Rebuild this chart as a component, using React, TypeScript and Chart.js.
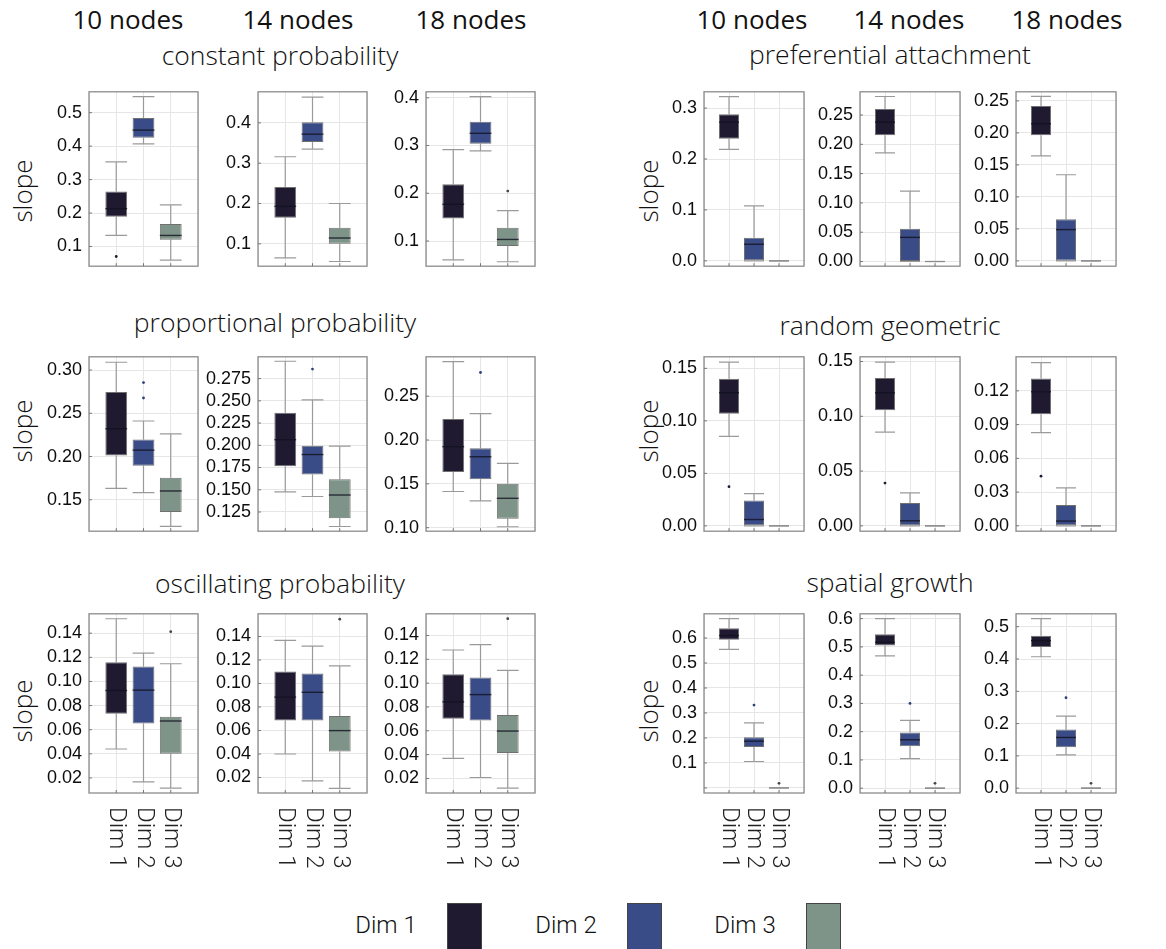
import React, { useEffect, useRef } from 'react';
import { Chart, registerables } from 'chart.js';

Chart.register(...registerables);

// ---------- categories / colours ----------
const categories = ['Dim 1', 'Dim 2', 'Dim 3'];
const dimColors = ['#1f1a30', '#3a4c87', '#7e9489'];
const outlierColors = ['#1f1a30', '#2f3f78', '#3d4a44'];
const columnTitles = ['10 nodes', '14 nodes', '18 nodes'];
const leftTitles = ['constant probability', 'proportional probability', 'oscillating probability'];
const rightTitles = ['preferential attachment', 'random geometric', 'spatial growth'];

// ---------- data: per dimension [lower whisker, Q1, median, Q3, upper whisker] ----------
const constant10 = [[0.133, 0.189, 0.213, 0.264, 0.353], [0.4065, 0.425, 0.448, 0.484, 0.548], [0.059, 0.12, 0.133, 0.167, 0.2245]];
const constant10Out = [[0.07], [], []];
const constant10Range = [0.041, 0.5625];
const constant10Ticks = ['0.1', '0.2', '0.3', '0.4', '0.5'];

const constant14 = [[0.065, 0.165, 0.193, 0.241, 0.316], [0.335, 0.3525, 0.372, 0.4016, 0.4638], [0.0563, 0.1, 0.1145, 0.14, 0.2]];
const constant14Out = [[], [], []];
const constant14Range = [0.0446, 0.477];
const constant14Ticks = ['0.1', '0.2', '0.3', '0.4'];

const constant18 = [[0.0605, 0.147, 0.177, 0.219, 0.2915], [0.289, 0.3036, 0.3256, 0.35, 0.4026], [0.0566, 0.0895, 0.1033, 0.1276, 0.1638]];
const constant18Out = [[], [], [0.2046]];
const constant18Range = [0.0473, 0.4125];
const constant18Ticks = ['0.1', '0.2', '0.3', '0.4'];

const pref10 = [[0.2188, 0.24, 0.2723, 0.2877, 0.3227], [0, 0, 0.0326, 0.0456, 0.108], [0, 0, 0, 0, 0]];
const pref10Out = [[], [], []];
const pref10Range = [-0.0105, 0.332];
const pref10Ticks = ['0.0', '0.1', '0.2', '0.3'];

const pref14 = [[0.1853, 0.2153, 0.2378, 0.2603, 0.2816], [0, 0, 0.0412, 0.0561, 0.1202], [0, 0, 0, 0, 0]];
const pref14Out = [[], [], []];
const pref14Range = [-0.008, 0.2896];
const pref14Ticks = ['0.00', '0.05', '0.10', '0.15', '0.20', '0.25'];

const pref18 = [[0.164, 0.1962, 0.2143, 0.2422, 0.2569], [0, 0, 0.0489, 0.0651, 0.1346], [0, 0, 0, 0, 0]];
const pref18Out = [[], [], []];
const pref18Range = [-0.0083, 0.2642];
const pref18Ticks = ['0.00', '0.05', '0.10', '0.15', '0.20', '0.25'];

const prop10 = [[0.1631, 0.2011, 0.2321, 0.2746, 0.309], [0.1584, 0.1893, 0.2074, 0.2197, 0.2411], [0.1192, 0.1359, 0.1602, 0.1755, 0.2262]];
const prop10Out = [[], [0.2677, 0.2855], []];
const prop10Range = [0.1137, 0.3153];
const prop10Ticks = ['0.15', '0.20', '0.25', '0.30'];

const prop14 = [[0.1477, 0.1765, 0.2063, 0.2366, 0.2945], [0.1424, 0.1672, 0.1896, 0.1995, 0.2511], [0.1087, 0.1179, 0.1441, 0.1618, 0.1991]];
const prop14Out = [[], [0.2857], []];
const prop14Range = [0.1034, 0.2995];
const prop14Ticks = ['0.125', '0.150', '0.175', '0.200', '0.225', '0.250', '0.275'];

const prop18 = [[0.1413, 0.1636, 0.1924, 0.2241, 0.2895], [0.1306, 0.1553, 0.1809, 0.1906, 0.2301], [0.1011, 0.1101, 0.1335, 0.15, 0.1733]];
const prop18Out = [[], [0.277], []];
const prop18Range = [0.096, 0.2949];
const prop18Ticks = ['0.10', '0.15', '0.20', '0.25'];

const rand10 = [[0.0853, 0.1068, 0.1268, 0.1402, 0.156], [0, 0, 0.006, 0.0242, 0.0307], [0, 0, 0, 0, 0]];
const rand10Out = [[0.0373], [], []];
const rand10Range = [-0.0051, 0.161];
const rand10Ticks = ['0.00', '0.05', '0.10', '0.15'];

const rand14 = [[0.0856, 0.1056, 0.1214, 0.1349, 0.1495], [0, 0, 0.0046, 0.0209, 0.0301], [0, 0, 0, 0, 0]];
const rand14Out = [[0.039], [], []];
const rand14Range = [-0.0049, 0.1543];
const rand14Ticks = ['0.00', '0.05', '0.10', '0.15'];

const rand18 = [[0.0829, 0.0991, 0.1192, 0.1311, 0.1451], [0, 0, 0.0042, 0.0184, 0.0337], [0, 0, 0, 0, 0]];
const rand18Out = [[0.0441], [], []];
const rand18Range = [-0.0048, 0.1503];
const rand18Ticks = ['0.00', '0.03', '0.06', '0.09', '0.12'];

const osc10 = [[0.044, 0.0733, 0.0925, 0.116, 0.152], [0.0168, 0.0652, 0.0928, 0.1125, 0.1235], [0.0115, 0.04, 0.0672, 0.0707, 0.1147]];
const osc10Out = [[], [], [0.1413]];
const osc10Range = [0.0075, 0.1561];
const osc10Ticks = ['0.02', '0.04', '0.06', '0.08', '0.10', '0.12', '0.14'];

const osc14 = [[0.04, 0.0686, 0.0884, 0.1103, 0.1367], [0.0172, 0.0686, 0.0925, 0.1084, 0.1318], [0.0108, 0.0421, 0.0599, 0.0723, 0.1149]];
const osc14Out = [[], [], [0.1547]];
const osc14Range = [0.0068, 0.1593];
const osc14Ticks = ['0.02', '0.04', '0.06', '0.08', '0.10', '0.12', '0.14'];

const osc18 = [[0.0368, 0.0702, 0.0843, 0.1075, 0.1278], [0.0208, 0.0686, 0.0904, 0.1048, 0.1324], [0.0119, 0.0414, 0.0598, 0.0733, 0.1107]];
const osc18Out = [[], [], [0.1541]];
const osc18Range = [0.0078, 0.1582];
const osc18Ticks = ['0.02', '0.04', '0.06', '0.08', '0.10', '0.12', '0.14'];

const spat10 = [[0.5547, 0.5935, 0.61, 0.6388, 0.6775], [0.1058, 0.1639, 0.1871, 0.2026, 0.2607], [0, 0, 0, 0, 0]];
const spat10Out = [[], [0.3316], [0.0186]];
const spat10Range = [-0.0202, 0.6969];
const spat10Ticks = ['0.0', '0.1', '0.2', '0.3', '0.4', '0.5', '0.6'];
const spat10Unlabeled = ['0.0'];

const spat14 = [[0.4684, 0.5051, 0.5164, 0.5451, 0.6], [0.1049, 0.1484, 0.1712, 0.1973, 0.2397], [0, 0, 0, 0, 0]];
const spat14Out = [[], [0.3], [0.0171]];
const spat14Range = [-0.017, 0.6171];
const spat14Ticks = ['0.0', '0.1', '0.2', '0.3', '0.4', '0.5', '0.6'];

const spat18 = [[0.407, 0.437, 0.457, 0.472, 0.5252], [0.103, 0.127, 0.157, 0.182, 0.223], [0, 0, 0, 0, 0]];
const spat18Out = [[], [0.28], [0.015]];
const spat18Range = [-0.015, 0.54];
const spat18Ticks = ['0.0', '0.1', '0.2', '0.3', '0.4', '0.5'];

// ---------- layout ----------
const leftFrameX = [89, 258, 426];
const rightFrameX = [704, 860, 1016];
const frameY = [86, 351, 608];
const frameH = [186, 186, 185];
const leftFrameW = 109;
const rightFrameW = 100;
const AXIS_W = 60;
const PAD_TOP = 12;
const PAD_RIGHT = 8;

const GRID = '#e6e6e6';
const FRAME = '#8c8c8c';
const WHISKER = '#9a9a9a';
const BOX_EDGE = '#707070';
const MEDIAN = 'rgba(18,18,32,0.8)';
const TICK_FONT = "'Liberation Sans', Arial, sans-serif";
const LIGHT_FONT = "'Open Sans', sans-serif";
const DIM_FONT = 'Roboto, sans-serif';

type PanelDef = {
  stats: number[][];
  out: number[][];
  range: number[];
  ticks: string[];
  hidden: string[];
  side: number;
  col: number;
  row: number;
};

const panels: PanelDef[] = [
  { stats: constant10, out: constant10Out, range: constant10Range, ticks: constant10Ticks, hidden: [], side: 0, col: 0, row: 0 },
  { stats: constant14, out: constant14Out, range: constant14Range, ticks: constant14Ticks, hidden: [], side: 0, col: 1, row: 0 },
  { stats: constant18, out: constant18Out, range: constant18Range, ticks: constant18Ticks, hidden: [], side: 0, col: 2, row: 0 },
  { stats: prop10, out: prop10Out, range: prop10Range, ticks: prop10Ticks, hidden: [], side: 0, col: 0, row: 1 },
  { stats: prop14, out: prop14Out, range: prop14Range, ticks: prop14Ticks, hidden: [], side: 0, col: 1, row: 1 },
  { stats: prop18, out: prop18Out, range: prop18Range, ticks: prop18Ticks, hidden: [], side: 0, col: 2, row: 1 },
  { stats: osc10, out: osc10Out, range: osc10Range, ticks: osc10Ticks, hidden: [], side: 0, col: 0, row: 2 },
  { stats: osc14, out: osc14Out, range: osc14Range, ticks: osc14Ticks, hidden: [], side: 0, col: 1, row: 2 },
  { stats: osc18, out: osc18Out, range: osc18Range, ticks: osc18Ticks, hidden: [], side: 0, col: 2, row: 2 },
  { stats: pref10, out: pref10Out, range: pref10Range, ticks: pref10Ticks, hidden: [], side: 1, col: 0, row: 0 },
  { stats: pref14, out: pref14Out, range: pref14Range, ticks: pref14Ticks, hidden: [], side: 1, col: 1, row: 0 },
  { stats: pref18, out: pref18Out, range: pref18Range, ticks: pref18Ticks, hidden: [], side: 1, col: 2, row: 0 },
  { stats: rand10, out: rand10Out, range: rand10Range, ticks: rand10Ticks, hidden: [], side: 1, col: 0, row: 1 },
  { stats: rand14, out: rand14Out, range: rand14Range, ticks: rand14Ticks, hidden: [], side: 1, col: 1, row: 1 },
  { stats: rand18, out: rand18Out, range: rand18Range, ticks: rand18Ticks, hidden: [], side: 1, col: 2, row: 1 },
  { stats: spat10, out: spat10Out, range: spat10Range, ticks: spat10Ticks, hidden: spat10Unlabeled, side: 1, col: 0, row: 2 },
  { stats: spat14, out: spat14Out, range: spat14Range, ticks: spat14Ticks, hidden: [], side: 1, col: 1, row: 2 },
  { stats: spat18, out: spat18Out, range: spat18Range, ticks: spat18Ticks, hidden: [], side: 1, col: 2, row: 2 },
];

function BoxPanel({ p }: { p: PanelDef }) {
  const ref = useRef<HTMLCanvasElement | null>(null);
  const fx = p.side === 0 ? leftFrameX[p.col] : rightFrameX[p.col];
  const fw = p.side === 0 ? leftFrameW : rightFrameW;
  const fy = frameY[p.row];
  const fh = frameH[p.row];
  const bottomH = p.row === 2 ? 90 : 12;
  const cw = AXIS_W + fw + PAD_RIGHT;
  const ch = PAD_TOP + fh + bottomH;

  useEffect(() => {
    if (!ref.current) return;
    const tickVals = p.ticks.map(Number);
    const outPts: { x: number; y: number }[] = [];
    const outCols: string[] = [];
    p.out.forEach((arr, i) =>
      arr.forEach((v) => {
        outPts.push({ x: i + 1, y: v });
        outCols.push(outlierColors[i]);
      })
    );
    const showLabels = p.row === 2;

    const boxPlugin = {
      id: 'boxWhiskers',
      beforeDatasetsDraw(chart: any) {
        const ctx = chart.ctx;
        const ys = chart.scales.y;
        const meta = chart.getDatasetMeta(0);
        ctx.save();
        ctx.strokeStyle = WHISKER;
        ctx.lineWidth = 1.2;
        p.stats.forEach((s, i) => {
          const el = meta.data[i];
          if (!el) return;
          const x = el.x;
          const hw = el.width / 2;
          const yLo = ys.getPixelForValue(s[0]);
          const yQ1 = ys.getPixelForValue(s[1]);
          const yQ3 = ys.getPixelForValue(s[3]);
          const yHi = ys.getPixelForValue(s[4]);
          ctx.beginPath();
          ctx.moveTo(x, yQ1);
          ctx.lineTo(x, yLo);
          ctx.moveTo(x, yQ3);
          ctx.lineTo(x, yHi);
          ctx.moveTo(x - hw, yLo);
          ctx.lineTo(x + hw, yLo);
          ctx.moveTo(x - hw, yHi);
          ctx.lineTo(x + hw, yHi);
          ctx.stroke();
        });
        ctx.restore();
      },
      afterDatasetsDraw(chart: any) {
        const ctx = chart.ctx;
        const ys = chart.scales.y;
        const meta = chart.getDatasetMeta(0);
        ctx.save();
        p.stats.forEach((s, i) => {
          const el = meta.data[i];
          if (!el) return;
          const x = el.x;
          const hw = el.width / 2;
          const yM = ys.getPixelForValue(s[2]);
          const flat = s[1] === s[3];
          ctx.strokeStyle = flat ? '#8a8a8a' : MEDIAN;
          ctx.lineWidth = flat ? 1.3 : 1.4;
          ctx.beginPath();
          ctx.moveTo(x - hw, yM);
          ctx.lineTo(x + hw, yM);
          ctx.stroke();
        });
        ctx.restore();
      },
      afterDraw(chart: any) {
        const ctx = chart.ctx;
        const a = chart.chartArea;
        const xs = chart.scales.x;
        const ys = chart.scales.y;
        ctx.save();
        ctx.strokeStyle = FRAME;
        ctx.lineWidth = 1.3;
        ctx.strokeRect(a.left, a.top, a.right - a.left, a.bottom - a.top);
        ctx.lineWidth = 1;
        ctx.strokeStyle = '#777';
        ctx.beginPath();
        categories.forEach((_, i) => {
          const x = xs.getPixelForValue(i + 1);
          ctx.moveTo(x, a.bottom);
          ctx.lineTo(x, a.bottom - 3);
        });
        tickVals.forEach((v) => {
          const y = ys.getPixelForValue(v);
          ctx.moveTo(a.left, y);
          ctx.lineTo(a.left + 3, y);
        });
        ctx.stroke();
        if (showLabels) {
          ctx.fillStyle = '#222';
          ctx.font = '300 24px ' + DIM_FONT;
          ctx.textAlign = 'left';
          ctx.textBaseline = 'middle';
          categories.forEach((c, i) => {
            const x = xs.getPixelForValue(i + 1);
            ctx.save();
            ctx.translate(x, a.bottom + 14);
            ctx.rotate(Math.PI / 2);
            ctx.fillText(c, 0, 0);
            ctx.restore();
          });
        }
        ctx.restore();
      },
    };

    const chart = new Chart(ref.current, {
      type: 'bar',
      data: {
        datasets: [
          {
            type: 'bar',
            data: p.stats.map((s, i) => ({ x: i + 1, y: [s[1], s[3]] })),
            backgroundColor: dimColors,
            borderColor: BOX_EDGE,
            borderWidth: 1,
            borderSkipped: false,
            barPercentage: 0.8,
            categoryPercentage: 1,
          } as any,
          {
            type: 'scatter',
            data: outPts,
            pointRadius: 1.4,
            pointBorderWidth: 0,
            pointBackgroundColor: outCols,
            backgroundColor: outCols,
          } as any,
        ],
      },
      options: {
        responsive: false,
        animation: false,
        devicePixelRatio: 1,
        layout: { padding: { left: 0, top: PAD_TOP, right: PAD_RIGHT, bottom: 0 } },
        plugins: { legend: { display: false }, tooltip: { enabled: false } },
        events: [],
        scales: {
          x: {
            type: 'linear',
            min: 0,
            max: 4,
            offset: false,
            grid: { offset: false, color: GRID, drawTicks: false, lineWidth: 1 },
            border: { display: false },
            ticks: { display: false, stepSize: 1 },
            afterFit: (s: any) => {
              s.height = bottomH;
            },
          },
          y: {
            type: 'linear',
            min: p.range[0],
            max: p.range[1],
            beginAtZero: false,
            grid: { color: GRID, drawTicks: false, lineWidth: 1 },
            border: { display: false },
            afterBuildTicks: (s: any) => {
              s.ticks = tickVals.map((v) => ({ value: v }));
            },
            ticks: {
              autoSkip: false,
              padding: 7,
              color: '#0d0d0d',
              font: { family: TICK_FONT, size: 18 },
              callback: (_v: any, i: number) => (p.hidden.includes(p.ticks[i]) ? '' : p.ticks[i]),
            },
            afterFit: (s: any) => {
              s.width = AXIS_W;
            },
          },
        },
      } as any,
      plugins: [boxPlugin],
    });
    return () => chart.destroy();
  }, []);

  return (
    <div style={{ position: 'absolute', left: fx - AXIS_W, top: fy - PAD_TOP, width: cw, height: ch }}>
      <canvas ref={ref} width={cw} height={ch} style={{ width: cw, height: ch, display: 'block' }} />
    </div>
  );
}

function Label({ x, y, text, font, size, weight, rotate }: any) {
  return (
    <div
      style={{
        position: 'absolute',
        left: x,
        top: y,
        transform: `translate(-50%, -50%)${rotate ? ' rotate(-90deg)' : ''}`,
        fontFamily: font,
        fontSize: size,
        fontWeight: weight,
        color: '#111',
        whiteSpace: 'nowrap',
        lineHeight: 1,
      }}
    >
      {text}
    </div>
  );
}

const headerX = [128, 298, 471, 752, 909, 1067];
const leftTitlePos = [[280, 55], [275, 322], [280, 583]];
const rightTitlePos = [[890, 54], [890, 325], [890, 582]];
const slopeY = [191, 431, 711];
const slopeX = [22, 648];
const legendTextX = [386, 566, 745];
const legendBoxX = [447, 627, 806];

export default function App() {
  return (
    <div style={{ position: 'fixed', left: 0, top: 0, width: 1166, height: 949, overflow: 'hidden', background: '#fff' }}>
      {headerX.map((x, i) => (
        <Label key={'h' + i} x={x} y={19} text={columnTitles[i % 3]} font={"'Open Sans', sans-serif"} size={26} weight={500} />
      ))}
      {leftTitles.map((t, i) => (
        <Label key={'lt' + i} x={leftTitlePos[i][0]} y={leftTitlePos[i][1]} text={t} font={LIGHT_FONT} size={26.5} weight={300} />
      ))}
      {rightTitles.map((t, i) => (
        <Label key={'rt' + i} x={rightTitlePos[i][0]} y={rightTitlePos[i][1]} text={t} font={LIGHT_FONT} size={26.5} weight={300} />
      ))}
      {slopeY.map((y, r) =>
        slopeX.map((x, s) => (
          <Label key={'s' + r + s} x={x} y={y} text="slope" font={LIGHT_FONT} size={26} weight={300} rotate />
        ))
      )}
      {panels.map((p, i) => (
        <BoxPanel key={i} p={p} />
      ))}
      {categories.map((c, i) => (
        <React.Fragment key={'lg' + i}>
          <Label x={legendTextX[i]} y={925} text={c} font={DIM_FONT} size={24} weight={300} />
          <div
            style={{
              position: 'absolute',
              left: legendBoxX[i],
              top: 903,
              width: 35,
              height: 60,
              background: dimColors[i],
              border: '1px solid #444',
              boxSizing: 'border-box',
            }}
          />
        </React.Fragment>
      ))}
    </div>
  );
}
